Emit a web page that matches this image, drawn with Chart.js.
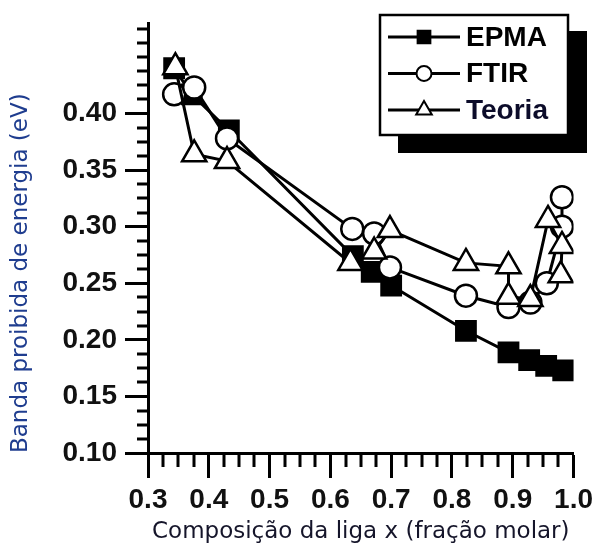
<!DOCTYPE html>
<html>
<head>
<meta charset="utf-8">
<script src="https://cdn.jsdelivr.net/npm/chart.js@4.4.1/dist/chart.umd.min.js"></script>
<style>
  html, body { margin: 0; padding: 0; background: #fff; }
  #wrap { width: 598px; height: 552px; }
</style>
</head>
<body>
<div id="wrap"><canvas id="chart"></canvas></div>
<script>
// valores
const seriesNames = ['EPMA', 'FTIR', 'Teoria'];

const epmaX = [0.343, 0.372, 0.433, 0.637, 0.668, 0.700, 0.823, 0.893, 0.927, 0.955, 0.983];
const epmaY = [0.440, 0.417, 0.385, 0.274, 0.260, 0.248, 0.208, 0.189, 0.182, 0.177, 0.173];

const ftirX = [0.343, 0.376, 0.430, 0.636, 0.672, 0.698, 0.823, 0.893, 0.929, 0.956, 0.981, 0.981];
const ftirY = [0.417, 0.423, 0.378, 0.298, 0.294, 0.264, 0.239, 0.229, 0.233, 0.250, 0.300, 0.326];

const teoriaX = [0.345, 0.376, 0.430, 0.633, 0.672, 0.698, 0.823, 0.893, 0.893, 0.929, 0.958, 0.981, 0.979];
const teoriaY = [0.441, 0.364, 0.358, 0.268, 0.278, 0.297, 0.268, 0.265, 0.238, 0.236, 0.306, 0.283, 0.257];

const xTickLabels = ['0.3', '0.4', '0.5', '0.6', '0.7', '0.8', '0.9', '1.0'];
const yTickLabels = ['0.10', '0.15', '0.20', '0.25', '0.30', '0.35', '0.40'];

function toPoints(xs, ys) {
  return xs.map((x, i) => ({ x: x, y: ys[i] }));
}

function findLabel(list, v) {
  const t = list.find(s => Math.abs(parseFloat(s) - v) < 1e-6);
  return t === undefined ? '' : t;
}

// ticks menores (mais curtos) desenhados pela escala
const minorTicks = {
  id: 'minorTicks',
  afterDraw(chart) {
    const ctx = chart.ctx;
    const x = chart.scales.x;
    const y = chart.scales.y;
    ctx.save();
    ctx.strokeStyle = '#000';
    ctx.lineWidth = 3;
    ctx.beginPath();
    for (let i = 0; i <= 28; i++) {
      if (i % 4 === 0) continue;
      const px = Math.round(x.getPixelForValue(0.3 + i * 0.025));
      ctx.moveTo(px, x.top);
      ctx.lineTo(px, x.top + 14);
    }
    for (let i = 0; i <= 30; i++) {
      if (i % 4 === 0 && i <= 24) continue;
      const py = Math.round(y.getPixelForValue(0.10 + i * 0.0125));
      ctx.moveTo(y.right, py);
      ctx.lineTo(y.right - 11, py);
    }
    ctx.stroke();
    ctx.restore();
  }
};

// legenda com caixa e sombra preta
const boxLegend = {
  id: 'boxLegend',
  afterDraw(chart) {
    const ctx = chart.ctx;
    const bx = 380, by = 15, bw = 188, bh = 120;
    ctx.save();
    ctx.fillStyle = '#000';
    ctx.fillRect(bx + 18, by + 16, bw + 1, bh + 2);
    ctx.fillStyle = '#fff';
    ctx.fillRect(bx, by, bw, bh);
    ctx.strokeStyle = '#000';
    ctx.lineWidth = 2.5;
    ctx.strokeRect(bx, by, bw, bh);

    const legendRadius = [9, 7.5, 9];
    chart.data.datasets.forEach((ds, i) => {
      const cy = by + 22 + i * 36.5;
      ctx.strokeStyle = '#000';
      ctx.lineWidth = 3;
      ctx.beginPath();
      ctx.moveTo(bx + 8, cy);
      ctx.lineTo(bx + 80, cy);
      ctx.stroke();
      ctx.fillStyle = ds.pointBackgroundColor;
      ctx.strokeStyle = '#000';
      ctx.lineWidth = 2;
      Chart.helpers.drawPoint(ctx, {
        pointStyle: ds.pointStyle,
        radius: legendRadius[i],
        rotation: 0,
        borderWidth: 2
      }, bx + 44, cy);
      ctx.fillStyle = i === 2 ? '#0c0c2a' : '#000';
      ctx.font = 'bold 28px "Liberation Sans", Arial, sans-serif';
      ctx.textBaseline = 'middle';
      ctx.textAlign = 'left';
      ctx.fillText(ds.label, bx + 86, cy + 1);
    });
    ctx.restore();
  }
};

Chart.defaults.font.family = '"Liberation Sans", Arial, sans-serif';

new Chart(document.getElementById('chart'), {
  type: 'scatter',
  data: {
    datasets: [
      {
        label: seriesNames[0],
        data: toPoints(epmaX, epmaY),
        showLine: true,
        borderColor: '#000',
        borderWidth: 3,
        pointStyle: 'rect',
        pointRadius: 14,
        pointBorderWidth: 2,
        pointBackgroundColor: '#000',
        pointBorderColor: '#000',
        order: 3
      },
      {
        label: seriesNames[1],
        data: toPoints(ftirX, ftirY),
        showLine: true,
        borderColor: '#000',
        borderWidth: 3,
        pointStyle: 'circle',
        pointRadius: 11,
        pointBorderWidth: 2.5,
        pointBackgroundColor: '#fff',
        pointBorderColor: '#000',
        order: 2
      },
      {
        label: seriesNames[2],
        data: toPoints(teoriaX, teoriaY),
        showLine: true,
        borderColor: '#000',
        borderWidth: 3,
        pointStyle: 'triangle',
        pointRadius: 14,
        pointBorderWidth: 2.5,
        pointBackgroundColor: '#fff',
        pointBorderColor: '#000',
        order: 1
      }
    ]
  },
  options: {
    responsive: true,
    maintainAspectRatio: false,
    animation: false,
    layout: { padding: { top: 23, left: 0, right: 0, bottom: 0 } },
    plugins: {
      legend: { display: false },
      tooltip: { enabled: false }
    },
    scales: {
      x: {
        type: 'linear',
        min: 0.3,
        max: 1.0,
        border: { color: '#000', width: 3 },
        grid: { drawOnChartArea: false, tickLength: 25, tickWidth: 3, tickColor: '#000' },
        ticks: {
          stepSize: 0.1,
          autoSkip: false,
          maxRotation: 0,
          padding: 5,
          color: '#111',
          font: { size: 28, weight: 'bold' },
          callback: v => findLabel(xTickLabels, v)
        },
        title: {
          display: true,
          text: 'Composição da liga x (fração molar)',
          color: '#15152a',
          font: { family: '"DejaVu Sans", Verdana, sans-serif', size: 23 },
          padding: { top: 0, bottom: 6 }
        },
        afterFit: s => { s.height = 99; }
      },
      y: {
        type: 'linear',
        min: 0.10,
        max: 0.48,
        border: { color: '#000', width: 3 },
        grid: {
          drawOnChartArea: false,
          tickLength: 23,
          tickWidth: 3,
          tickColor: c => (c.tick && c.tick.value > 0.41) ? 'rgba(0,0,0,0)' : '#000'
        },
        ticks: {
          stepSize: 0.05,
          includeBounds: false,
          autoSkip: false,
          padding: 8,
          color: '#111',
          font: { size: 28, weight: 'bold' },
          callback: v => findLabel(yTickLabels, v)
        },
        title: {
          display: true,
          text: 'Banda proibida de energia (eV)',
          align: 'start',
          color: '#1f3d8f',
          font: { family: '"DejaVu Sans", Verdana, sans-serif', size: 23 },
          padding: { top: 7, bottom: 0 }
        },
        afterFit: s => { s.width = 148; s.paddingTop = 0; }
      }
    }
  },
  plugins: [minorTicks, boxLegend]
});
</script>
</body>
</html>
